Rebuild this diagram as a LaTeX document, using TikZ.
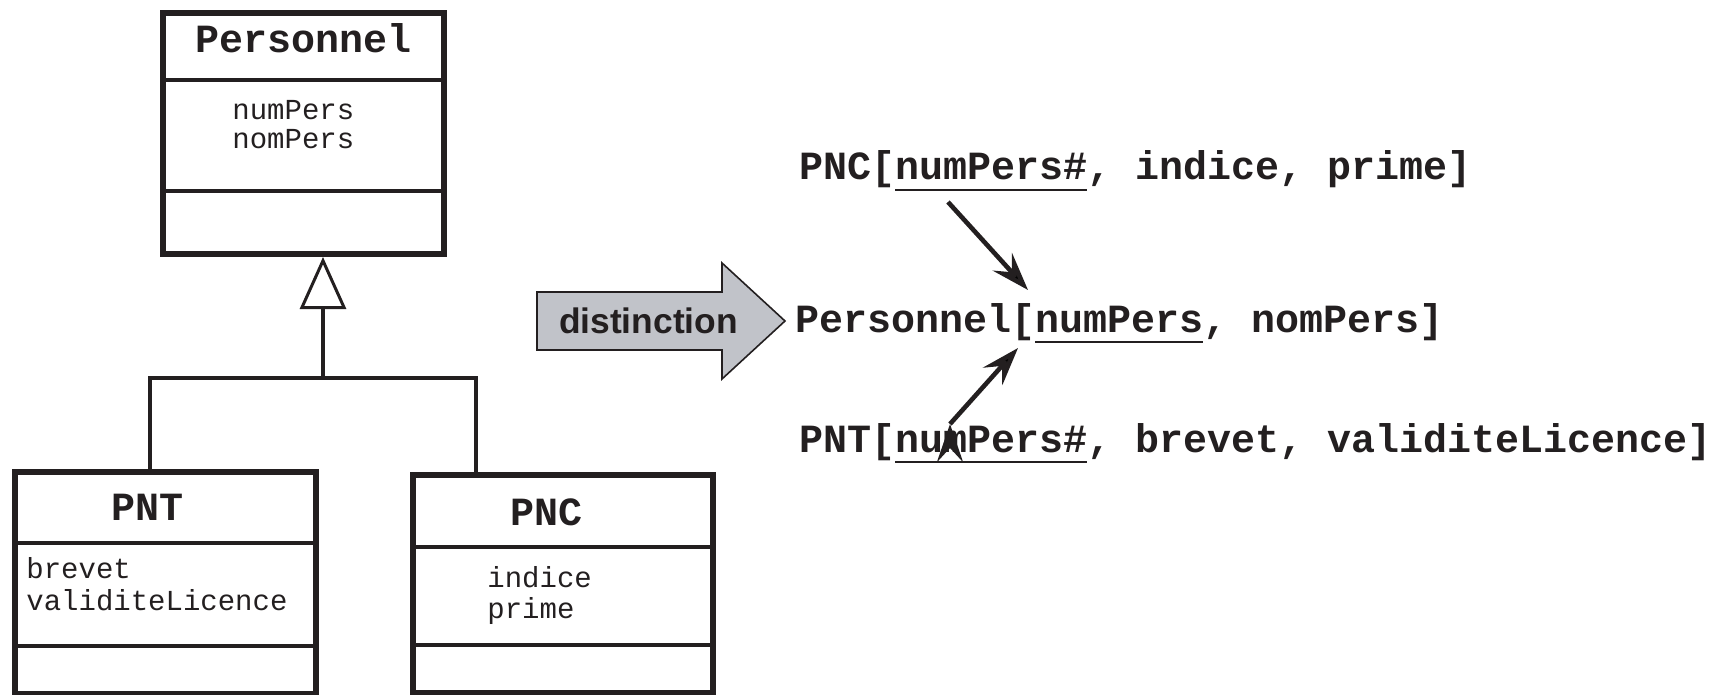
\documentclass[tikz,border=0pt]{standalone}
\usepackage{fontspec}
\setmainfont{Liberation Serif}
\setsansfont{Liberation Sans}
\setmonofont{Liberation Mono}
\usetikzlibrary{arrows.meta}
\definecolor{ink}{RGB}{35,31,32}
\definecolor{distgray}{RGB}{193,195,201}
\newcommand{\keyul}[1]{\setbox0=\hbox{#1}\rlap{\color{ink}\rule[-5.5pt]{\wd0}{1pt}}\box0}

\begin{document}
\begin{tikzpicture}[x=0.5pt,y=-0.5pt,
  classbox/.style={draw=ink,line width=3pt},
  sepline/.style={draw=ink,line width=1.8pt},
  inh/.style={draw=ink,line width=2.4pt},
  hdr/.style={inner sep=0pt,anchor=base,text=ink,font=\ttfamily\bfseries\fontsize{20}{24}\selectfont},
  attr/.style={inner sep=0pt,anchor=base west,text=ink,font=\ttfamily\fontsize{14.5}{17}\selectfont},
  rel/.style={inner sep=0pt,anchor=base west,text=ink,font=\ttfamily\bfseries\fontsize{20}{24}\selectfont},
  refarrow/.style={draw=ink,line width=2.3pt,-{Stealth[length=19pt,width=13pt,inset=7pt]}}]
  \useasboundingbox (0,0) rectangle (1723,695);
  \node[classbox,minimum width=140.5pt,minimum height=120.5pt] (personnel) at (303.5,133.5) {};
  \node[classbox,minimum width=150.5pt,minimum height=110.75pt] (pnt) at (165.5,582.75) {};
  \node[classbox,minimum width=150pt,minimum height=109pt] (pnc) at (563,584) {};
  \draw[sepline] (personnel.west |- 0,80) -- (personnel.east |- 0,80)
    (personnel.west |- 0,191) -- (personnel.east |- 0,191);
  \draw[sepline] (pnt.west |- 0,543) -- (pnt.east |- 0,543)
    (pnt.west |- 0,646) -- (pnt.east |- 0,646);
  \draw[sepline] (pnc.west |- 0,547) -- (pnc.east |- 0,547)
    (pnc.west |- 0,645) -- (pnc.east |- 0,645);
  \node[hdr] (personnelname) at (304,53) {Personnel};
  \node[attr] (numpers) at (232,120) {numPers};
  \node[attr] (nompers) at (232,149) {nomPers};
  \node[hdr] (pntname) at (148,520) {PNT};
  \node[attr] (brevet) at (26,578) {brevet};
  \node[attr] (validite) at (26,610) {validiteLicence};
  \node[hdr] (pncname) at (546,525) {PNC};
  \node[attr] (indice) at (487,587) {indice};
  \node[attr] (prime) at (487,618) {prime};
  \coordinate (hub) at (323,378);
  \coordinate (lbar) at (150,378);
  \coordinate (rbar) at (476,378);
  \draw[inh] (pnt.north -| lbar) -- (lbar) -- (rbar) -- (pnc.north -| rbar);
  \draw[inh,-{Triangle[open,length=26pt,width=23pt,line width=1.5pt 0]}] (hub) -- (personnel.south -| hub);
  \draw[draw=ink,fill=distgray,line width=0.8pt] (537,292) -- (722,292) -- (722,263) -- (785,321)
    -- (722,379) -- (722,350) -- (537,350) -- cycle;
  \node[inner sep=0pt,anchor=base,text=ink,font=\sffamily\bfseries\fontsize{17.7}{20}\selectfont] (distlabel) at (648.5,333) {distinction};
  \node[rel] (pncrel) at (799,180) {PNC[\keyul{numPers\#}, indice, prime]};
  \node[rel] (persrel) at (795,332) {Personnel[\keyul{numPers}, nomPers]};
  \node[rel] (pntrel) at (799,452) {PNT[\keyul{numPers\#}, brevet, validiteLicence]};
  \coordinate (pncfrom) at (948,202);
  \coordinate (intop) at (1028,290);
  \coordinate (pntfrom) at (950,424);
  \coordinate (inbot) at (1018,348);
  \path[refarrow]
    (pncfrom) edge (intop)
    (pntfrom) edge (inbot);
\end{tikzpicture}
\end{document}
